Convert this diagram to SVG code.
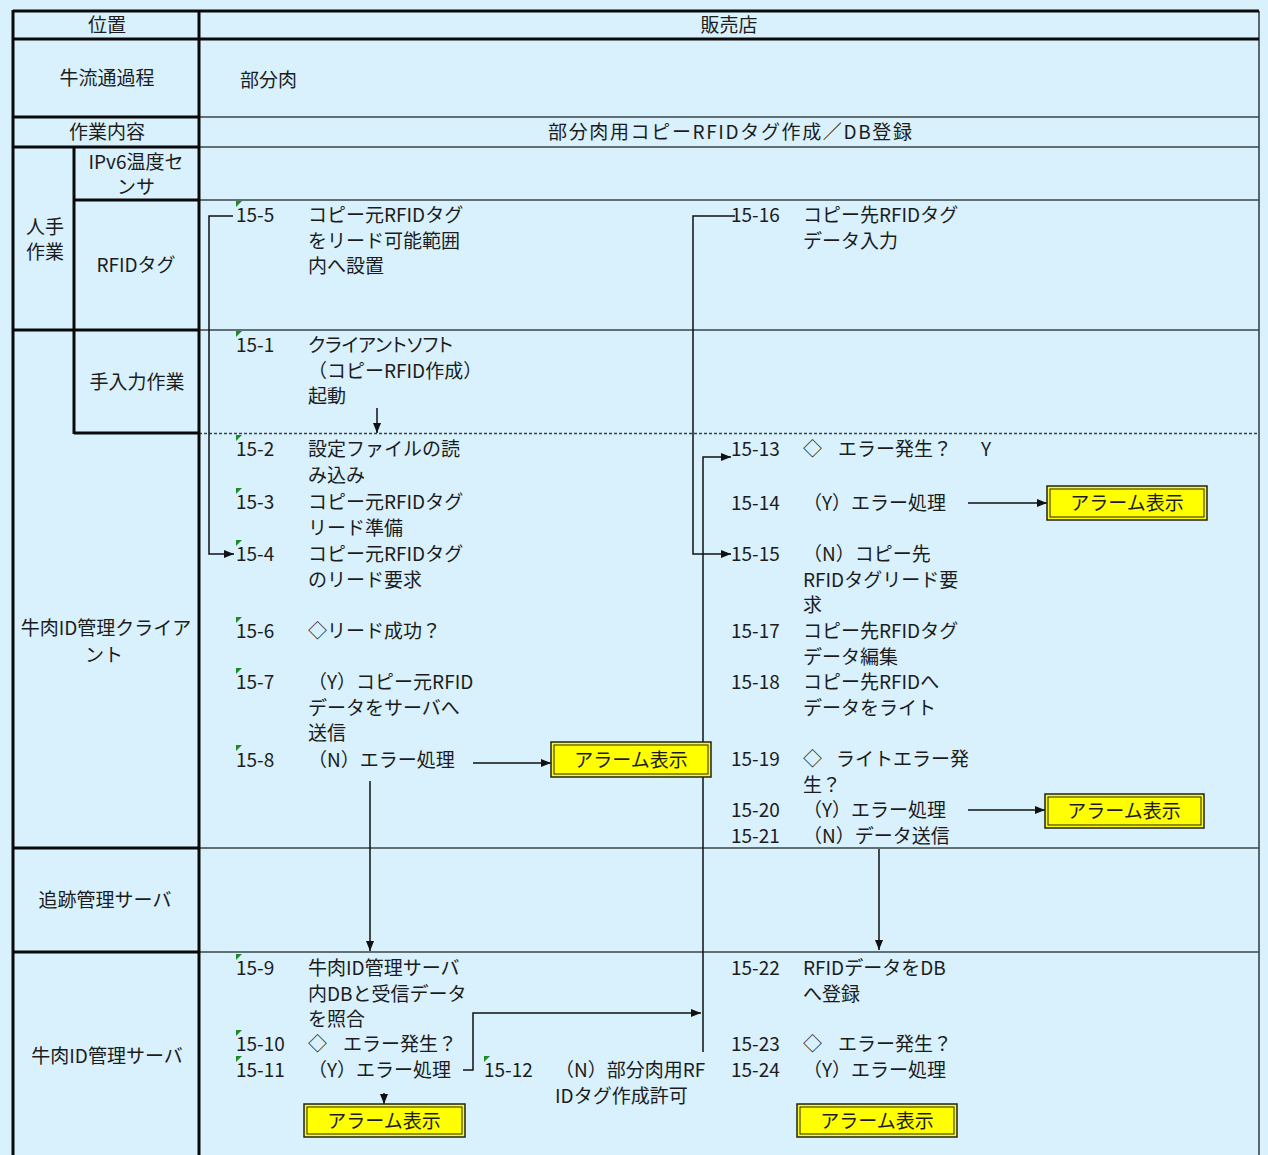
<svg xmlns="http://www.w3.org/2000/svg" width="1268" height="1155" viewBox="0 0 1268 1155">
<defs>
<style>
text{font-family:"Noto Sans CJK JP","Noto Sans",sans-serif;font-size:19px;fill:#1c1c1c}
.m{text-anchor:middle}
.thick{stroke:#0a0a0a;stroke-width:3;fill:none}
.thin{stroke:#3a4448;stroke-width:1.6;fill:none}
.dot{stroke:#3a4448;stroke-width:1.3;stroke-dasharray:3 2;fill:none}
.con{stroke:#111;stroke-width:1.5;fill:none;marker-end:url(#ah)}
.tri{fill:#1f8a2a}
.bo{fill:#ffff00;stroke:#222;stroke-width:1.5}
.bi{fill:none;stroke:#222;stroke-width:1}
</style>
<marker id="ah" viewBox="0 0 10 8" refX="10" refY="4" markerWidth="10" markerHeight="8" markerUnits="userSpaceOnUse" orient="auto">
<path d="M0,0 L10,4 L0,8 z" fill="#111"/>
</marker>
</defs>
<rect x="0" y="0" width="1268" height="1155" fill="#d8f1fc"/>

<g id="grid">
<line class="thin" x1="199" y1="117" x2="1259" y2="117"/>
<line class="thin" x1="199" y1="147" x2="1259" y2="147"/>
<line class="thin" x1="199" y1="200" x2="1259" y2="200"/>
<line class="thin" x1="199" y1="330" x2="1259" y2="330"/>
<line class="dot" x1="199" y1="433.5" x2="1259" y2="433.5"/>
<line class="thin" x1="199" y1="848" x2="1259" y2="848"/>
<line class="thin" x1="199" y1="952" x2="1259" y2="952"/>
<line class="thin" x1="1259" y1="11" x2="1259" y2="1155"/>
<line class="thick" x1="13" y1="11" x2="1259" y2="11"/>
<line class="thick" x1="13" y1="39" x2="1259" y2="39"/>
<line class="thick" x1="13" y1="117" x2="199" y2="117"/>
<line class="thick" x1="13" y1="147" x2="199" y2="147"/>
<line class="thick" x1="74" y1="200" x2="199" y2="200"/>
<line class="thick" x1="13" y1="330" x2="199" y2="330"/>
<line class="thick" x1="74" y1="433" x2="199" y2="433"/>
<line class="thick" x1="13" y1="848" x2="199" y2="848"/>
<line class="thick" x1="13" y1="952" x2="199" y2="952"/>
<line class="thick" x1="13" y1="10" x2="13" y2="1155"/>
<line class="thick" x1="199" y1="10" x2="199" y2="1155"/>
<line class="thick" x1="74" y1="147" x2="74" y2="434"/>
</g>

<g id="h-ichi"><text class="m" x="107" y="32">位置</text></g>
<g id="h-hanbaiten"><text class="m" x="729" y="32">販売店</text></g>
<g id="h-ryutsu"><text class="m" x="107" y="85">牛流通過程</text></g>
<g id="c-bubun"><text x="240" y="87">部分肉</text></g>
<g id="h-sagyo"><text class="m" x="107" y="139">作業内容</text></g>
<g id="c-title"><text x="548" y="139" textLength="364" lengthAdjust="spacing">部分肉用コピーRFIDタグ作成／DB登録</text></g>
<g id="l-ipv6"><text class="m" x="136" y="169">IPv6温度セ<tspan x="136" dy="25">ンサ</tspan></text></g>
<g id="l-hitode"><text class="m" x="45" y="234">人手<tspan x="45" dy="25">作業</tspan></text></g>
<g id="l-rfid"><text class="m" x="136" y="272">RFIDタグ</text></g>
<g id="l-tenyuryoku"><text class="m" x="137" y="389">手入力作業</text></g>
<g id="l-client"><text class="m" x="106" y="635">牛肉ID管理クライア<tspan x="104" dy="27">ント</tspan></text></g>
<g id="l-tsuiseki"><text class="m" x="105" y="907">追跡管理サーバ</text></g>
<g id="l-server"><text class="m" x="107" y="1063">牛肉ID管理サーバ</text></g>

<g id="markers">
<polygon class="tri" points="236,201 242,201 236,207"/>
<polygon class="tri" points="236,331 242,331 236,337"/>
<polygon class="tri" points="236,435 242,435 236,441"/>
<polygon class="tri" points="236,488 242,488 236,494"/>
<polygon class="tri" points="236,540 242,540 236,546"/>
<polygon class="tri" points="236,617 242,617 236,623"/>
<polygon class="tri" points="236,668 242,668 236,674"/>
<polygon class="tri" points="236,745 242,745 236,751"/>
<polygon class="tri" points="236,954 242,954 236,960"/>
<polygon class="tri" points="236,1030 242,1030 236,1036"/>
<polygon class="tri" points="236,1056 242,1056 236,1062"/>
<polygon class="tri" points="484,1056 490,1056 484,1062"/>
</g>

<g id="s15-5"><text x="236" y="222">15-5</text><text x="308" y="222">コピー元RFIDタグ<tspan x="308" dy="25.5">をリード可能範囲</tspan><tspan x="308" dy="25.5">内へ設置</tspan></text></g>
<g id="s15-1"><text x="236" y="352">15-1</text><text x="308" y="352"><tspan style="font-feature-settings:'palt'">クライアントソフト</tspan><tspan x="308" dy="25.5">（コピーRFID作成）</tspan><tspan x="308" dy="25.5">起動</tspan></text></g>
<g id="s15-2"><text x="236" y="456">15-2</text><text x="308" y="456">設定ファイルの読<tspan x="308" dy="25.5">み込み</tspan></text></g>
<g id="s15-3"><text x="236" y="509">15-3</text><text x="308" y="509">コピー元RFIDタグ<tspan x="308" dy="25.5">リード準備</tspan></text></g>
<g id="s15-4"><text x="236" y="561">15-4</text><text x="308" y="561">コピー元RFIDタグ<tspan x="308" dy="25.5">のリード要求</tspan></text></g>
<g id="s15-6"><text x="236" y="638">15-6</text><text x="308" y="638">◇リード成功？</text></g>
<g id="s15-7"><text x="236" y="689">15-7</text><text x="308" y="689">（Y）コピー元RFID<tspan x="308" dy="25.5">データをサーバへ</tspan><tspan x="308" dy="25.5">送信</tspan></text></g>
<g id="s15-8"><text x="236" y="767">15-8</text><text x="308" y="767">（N）エラー処理</text></g>
<g id="s15-9"><text x="236" y="975">15-9</text><text x="308" y="975">牛肉ID管理サーバ<tspan x="308" dy="25.5">内DBと受信データ</tspan><tspan x="308" dy="25.5">を照合</tspan></text></g>
<g id="s15-10"><text x="236" y="1051">15-10</text><text x="308" y="1051">◇<tspan x="343">エラー発生？</tspan></text></g>
<g id="s15-11"><text x="236" y="1077">15-11</text><text x="308" y="1077">（Y）エラー処理</text></g>
<g id="s15-12"><text x="484" y="1077">15-12</text><text x="555" y="1077">（N）部分肉用RF<tspan x="555" dy="25.5">IDタグ作成許可</tspan></text></g>

<g id="s15-16"><text x="731" y="222">15-16</text><text x="803" y="222">コピー先RFIDタグ<tspan x="803" dy="25.5">データ入力</tspan></text></g>
<g id="s15-13"><text x="731" y="456">15-13</text><text x="803" y="456">◇<tspan x="838">エラー発生？</tspan><tspan x="981">Y</tspan></text></g>
<g id="s15-14"><text x="731" y="510">15-14</text><text x="803" y="510">（Y）エラー処理</text></g>
<g id="s15-15"><text x="731" y="561">15-15</text><text x="803" y="561">（N）コピー先<tspan x="803" dy="25.5">RFIDタグリード要</tspan><tspan x="803" dy="25.5">求</tspan></text></g>
<g id="s15-17"><text x="731" y="638">15-17</text><text x="803" y="638">コピー先RFIDタグ<tspan x="803" dy="25.5">データ編集</tspan></text></g>
<g id="s15-18"><text x="731" y="689">15-18</text><text x="803" y="689">コピー先RFIDへ<tspan x="803" dy="25.5">データをライト</tspan></text></g>
<g id="s15-19"><text x="731" y="766">15-19</text><text x="803" y="766">◇<tspan x="836">ライトエラー発</tspan><tspan x="803" dy="25.5">生？</tspan></text></g>
<g id="s15-20"><text x="731" y="817">15-20</text><text x="803" y="817">（Y）エラー処理</text></g>
<g id="s15-21"><text x="731" y="843">15-21</text><text x="803" y="843">（N）データ送信</text></g>
<g id="s15-22"><text x="731" y="975">15-22</text><text x="803" y="975">RFIDデータをDB<tspan x="803" dy="25.5">へ登録</tspan></text></g>
<g id="s15-23"><text x="731" y="1051">15-23</text><text x="803" y="1051">◇<tspan x="838">エラー発生？</tspan></text></g>
<g id="s15-24"><text x="731" y="1077">15-24</text><text x="803" y="1077">（Y）エラー処理</text></g>

<g id="connectors">
<polyline class="con" points="233,216 209,216 209,554 234,554"/>
<polyline class="con" points="735,216 693,216 693,554 731,554"/>
<polyline class="con" points="703,1052 703,457 731,457"/>
<polyline class="con" points="463,1070 473,1070 473,1013 701,1013"/>
<line class="con" x1="377" y1="408" x2="377" y2="433"/>
<line class="con" x1="370" y1="781" x2="370" y2="951"/>
<line class="con" x1="879" y1="849" x2="879" y2="950"/>
<line class="con" x1="473" y1="763" x2="551" y2="763"/>
<line class="con" x1="968" y1="503" x2="1047" y2="503"/>
<line class="con" x1="968" y1="810" x2="1045" y2="810"/>
<line class="con" x1="384" y1="1093" x2="384" y2="1104"/>
</g>

<g id="alarm1"><rect class="bo" x="551" y="742" width="160" height="35"/><rect class="bi" x="554" y="745" width="154" height="29"/><text class="m" x="631" y="767">アラーム表示</text></g>
<g id="alarm2"><rect class="bo" x="1047" y="486" width="160" height="34"/><rect class="bi" x="1050" y="489" width="154" height="28"/><text class="m" x="1127" y="510">アラーム表示</text></g>
<g id="alarm3"><rect class="bo" x="1045" y="794" width="159" height="34"/><rect class="bi" x="1048" y="797" width="153" height="28"/><text class="m" x="1124" y="818">アラーム表示</text></g>
<g id="alarm4"><rect class="bo" x="304" y="1104" width="161" height="33"/><rect class="bi" x="307" y="1107" width="155" height="27"/><text class="m" x="384" y="1128">アラーム表示</text></g>
<g id="alarm5"><rect class="bo" x="797" y="1104" width="160" height="33"/><rect class="bi" x="800" y="1107" width="154" height="27"/><text class="m" x="877" y="1128">アラーム表示</text></g>
</svg>
